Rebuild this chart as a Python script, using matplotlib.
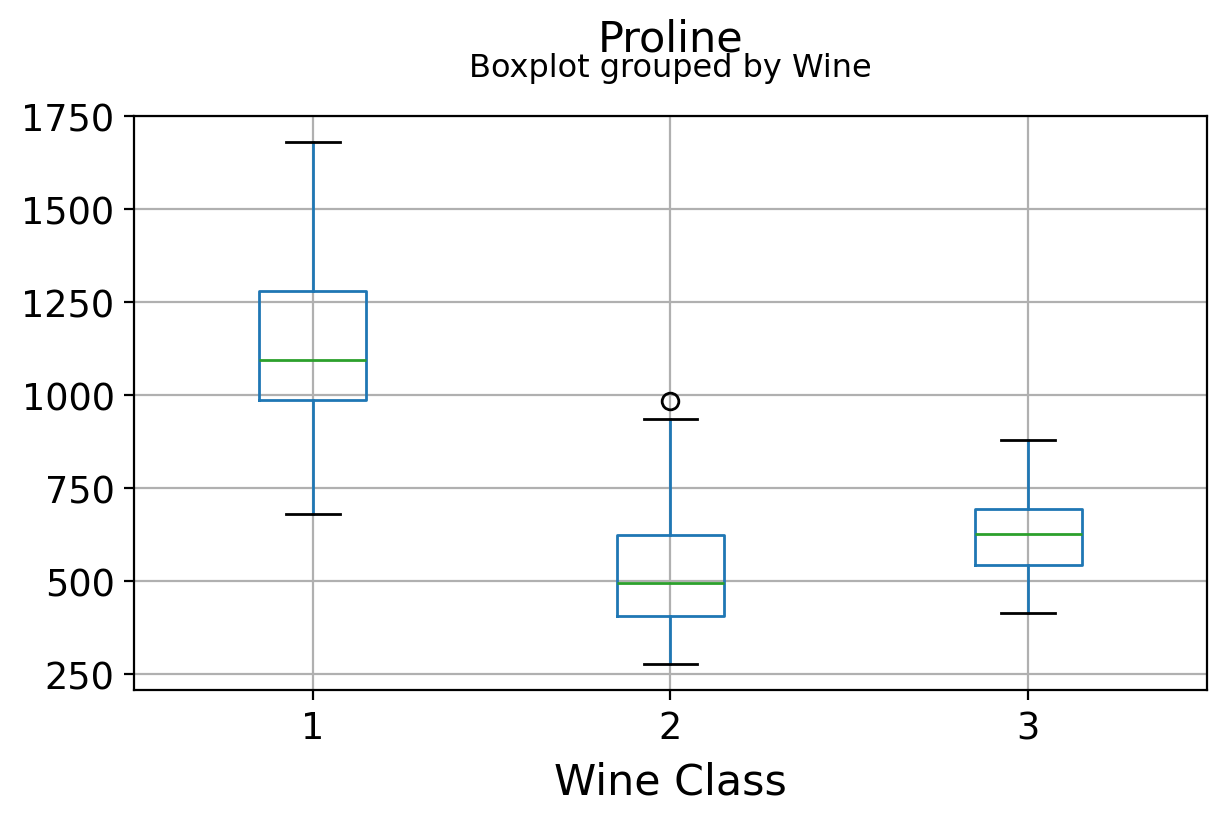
import matplotlib
matplotlib.use("Agg")
import matplotlib.pyplot as plt

# proline per wine class, five-number summaries
classes = ["1", "2", "3"]
q1 = [987.5, 406.5, 545]
medians = [1095, 495, 627.5]
q3 = [1280, 625, 695]
whis_lo = [680, 278, 415]
whis_hi = [1680, 937, 880]
fliers = [[], [985], []]

stats = []
for i, name in enumerate(classes):
    stats.append(dict(label=name, q1=q1[i], med=medians[i], q3=q3[i],
                      whislo=whis_lo[i], whishi=whis_hi[i], fliers=fliers[i]))

fig = plt.figure(figsize=(6.135, 4.1), dpi=200)
ax = fig.add_axes([0.1092, 0.1573, 0.8745, 0.7000])

blue = "#1f77b4"
ax.bxp(stats, positions=[1, 2, 3], widths=0.3,
       boxprops=dict(color=blue),
       whiskerprops=dict(color=blue),
       capprops=dict(color="k"),
       medianprops=dict(color="#2ca02c"),
       flierprops=dict(marker="o", markerfacecolor="none", markeredgecolor="k"))

ax.set_xlim(0.5, 3.5)
ax.set_yticks([250, 500, 750, 1000, 1250, 1500, 1750])
ax.grid(True, color="#b0b0b0", linewidth=0.8)
ax.set_axisbelow(True)
ax.tick_params(labelsize=13.2)
ax.set_xlabel("Wine Class", fontsize=15.4, labelpad=5)

fig.text(0.5465, 0.952, "Proline", ha="center", va="center", fontsize=15.5)
fig.text(0.5465, 0.916, "Boxplot grouped by Wine", ha="center", va="center", fontsize=11.5)

fig.savefig("out.png", dpi=200)
plt.close(fig)
